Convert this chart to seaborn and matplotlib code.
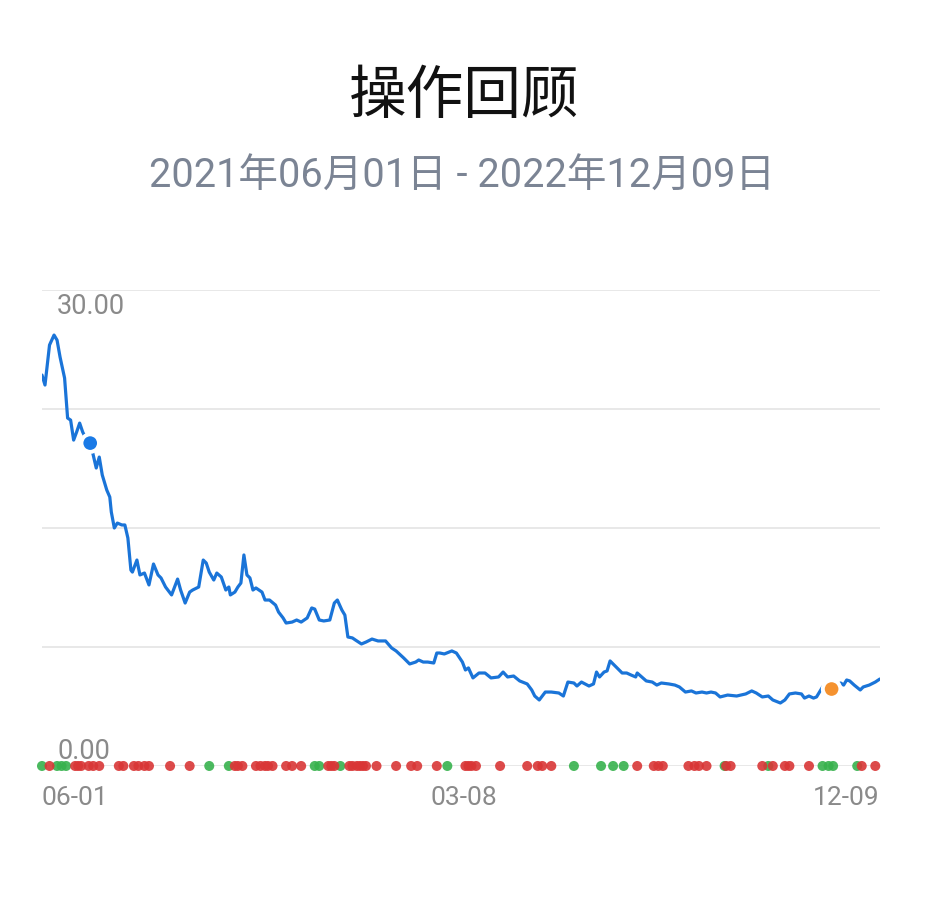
import matplotlib
matplotlib.use("Agg")
import matplotlib.pyplot as plt
import matplotlib.transforms as mtransforms
import seaborn as sns
import pandas as pd
import numpy as np

# ---------------- data ----------------
title_text = "操作回顾"
subtitle_text = "2021年06月01日 - 2022年12月09日"
start_date = "2021-06-01"
end_date = "2022-12-09"

# day offsets from start_date and closing values of the line
line_days = [0, 2, 5, 8, 10, 12, 15, 17, 19, 21, 23, 25, 27, 29, 32, 34, 36, 38, 40, 43,
             45, 46, 48, 50, 53, 55, 57, 59, 60, 63, 65, 68, 71, 74, 77, 79, 82, 86, 88, 90,
             92, 95, 98, 100, 104, 107, 109, 111, 114, 116, 119, 122, 124, 125, 128, 130, 132,
             134, 136, 138, 140, 142, 146, 148, 151, 155, 157, 160, 162, 166, 169, 172, 176,
             179, 181, 184, 187, 191, 194, 196, 199, 201, 203, 206, 208, 212, 215, 219, 223,
             228, 232, 235, 240, 244, 248, 250, 253, 256, 260, 262, 264, 267, 272, 275, 279,
             281, 283, 286, 290, 294, 298, 303, 306, 309, 313, 317, 322, 325, 327, 330, 334,
             338, 343, 346, 349, 353, 355, 358, 363, 366, 368, 370, 373, 375, 377, 381, 385,
             388, 391, 394, 395, 398, 401, 405, 408, 411, 416, 420, 423, 427, 431, 434, 438,
             441, 444, 447, 450, 455, 461, 467, 471, 474, 478, 482, 485, 490, 493, 496, 500,
             504, 506, 509, 512, 514, 518, 524, 530, 532, 534, 536, 539, 543, 545, 549, 553, 556]
line_values = [24.64, 24.01, 26.53, 27.16, 26.84, 25.77, 24.45, 21.93, 21.80, 20.54, 21.05,
               21.61, 21.05, 20.67, 20.35, 19.60, 18.78, 19.47, 18.34, 17.39, 16.95, 16.01,
               15.00, 15.31, 15.19, 15.19, 14.37, 12.35, 12.22, 12.98, 12.04, 12.16, 11.41,
               12.73, 12.04, 11.85, 11.28, 10.78, 11.28, 11.78, 11.09, 10.27, 10.96, 11.09,
               11.28, 12.98, 12.79, 12.22, 11.72, 12.16, 11.91, 11.09, 11.28, 10.78, 10.96,
               11.28, 11.53, 13.30, 12.04, 11.85, 11.09, 11.22, 10.96, 10.46, 10.46, 10.14,
               9.70, 9.33, 9.01, 9.07, 9.20, 9.07, 9.33, 9.96, 9.89, 9.20, 9.14, 9.20, 10.27,
               10.46, 9.83, 9.51, 8.13, 8.07, 7.94, 7.69, 7.81, 8.00, 7.88, 7.88, 7.44, 7.25,
               6.81, 6.43, 6.55, 6.68, 6.55, 6.55, 6.49, 7.12, 7.12, 7.06, 7.25, 7.12, 6.55,
               6.05, 6.18, 5.55, 5.86, 5.86, 5.55, 5.61, 5.92, 5.61, 5.67, 5.36, 5.17, 4.79,
               4.41, 4.16, 4.66, 4.66, 4.60, 4.41, 5.29, 5.23, 5.04, 5.29, 5.04, 5.17, 5.92,
               5.61, 5.92, 5.99, 6.62, 6.24, 5.86, 5.86, 5.73, 5.61, 5.86, 5.61, 5.36, 5.29,
               5.10, 5.23, 5.17, 5.10, 4.98, 4.66, 4.73, 4.60, 4.66, 4.60, 4.66, 4.60, 4.35,
               4.47, 4.41, 4.54, 4.73, 4.60, 4.35, 4.41, 4.16, 3.97, 4.16, 4.54, 4.60, 4.54,
               4.28, 4.41, 4.28, 4.35, 4.98, 4.85, 5.23, 5.10, 5.42, 5.36, 5.10, 4.79, 4.98,
               5.10, 5.29, 5.48]

# signal dots along the zero line
green_days = [0, 10, 13, 16, 111, 124, 181, 184, 198, 269, 353, 371, 379, 386, 453, 482,
              518, 522, 525, 541]
red_days = [5, 22, 24, 26, 31, 34, 38, 51, 54, 61, 64, 68, 71, 85, 98, 128, 130, 133, 142,
            145, 148, 150, 153, 162, 166, 172, 190, 192, 194, 204, 206, 209, 211, 213, 215,
            222, 235, 245, 249, 262, 281, 283, 285, 288, 304, 322, 329, 332, 338, 395, 406,
            409, 412, 429, 433, 436, 441, 454, 457, 478, 485, 493, 496, 509, 544, 553]

# highlighted points
blue_point_day, blue_point_value = 32, 20.35
orange_point_day, orange_point_value = 524, 4.85

y_min, y_max = 0.0, 30.0
y_grid = [0, 7.5, 15, 22.5, 30]
x_tick_dates = ["2021-06-01", "2022-03-08", "2022-12-09"]

# ---------------- style ----------------
sns.set_style("white")
plt.rcParams["font.family"] = ["Roboto", "Noto Sans CJK SC", "DejaVu Sans"]

LINE_C = "#1a74d8"
GREEN_C = "#37b24d"
RED_C = "#d93636"
GREY_TXT = "#8a8a8a"

fig = plt.figure(figsize=(9.33, 9.02), dpi=100)
ax = fig.add_axes([0.045, 0.1508, 0.898, 0.5277])

start = pd.Timestamp(start_date)
total_days = (pd.Timestamp(end_date) - start).days

line_df = pd.DataFrame({"day": line_days, "value": line_values})
sig_df = pd.DataFrame({
    "day": green_days + red_days,
    "value": [0.0] * (len(green_days) + len(red_days)),
    "kind": ["buy"] * len(green_days) + ["sell"] * len(red_days),
})

for g in y_grid:
    ax.axhline(g, color="#e4e4e4", lw=1.2, zorder=0)

sns.lineplot(data=line_df, x="day", y="value", ax=ax, color=LINE_C, lw=2.3, zorder=3)

sns.scatterplot(data=sig_df, x="day", y="value", hue="kind",
                palette={"buy": GREEN_C, "sell": RED_C}, s=52, alpha=0.9,
                edgecolor="none", legend=False, ax=ax, zorder=4, clip_on=False)

hl_df = pd.DataFrame({"day": [blue_point_day, orange_point_day],
                      "value": [blue_point_value, orange_point_value],
                      "kind": ["a", "b"]})
sns.scatterplot(data=hl_df, x="day", y="value", hue="kind",
                palette={"a": "#1a7ae6", "b": "#f5922f"}, s=160,
                edgecolor="white", linewidth=2.8, legend=False, ax=ax, zorder=5)

ax.set_xlim(0, total_days)
ax.set_ylim(y_min, y_max)
ax.set_xlabel("")
ax.set_ylabel("")
ax.set_yticks([])
ax.set_xticks([])
for s in ax.spines.values():
    s.set_visible(False)

trans = mtransforms.blended_transform_factory(ax.transAxes, ax.transData)
ax.text(0.018, y_max - 0.2, "30.00", transform=trans, ha="left", va="top",
        fontsize=19.5, color=GREY_TXT)
ax.text(0.018, y_min + 0.05, "0.00", transform=trans, ha="left", va="bottom",
        fontsize=19.5, color=GREY_TXT)

trans_x = mtransforms.blended_transform_factory(ax.transData, ax.transAxes)
aligns = ["left", "center", "right"]
for d, ha in zip(x_tick_dates, aligns):
    ts = pd.Timestamp(d)
    ax.text((ts - start).days, -0.043, ts.strftime("%m-%d"), transform=trans_x,
            ha=ha, va="top", fontsize=19, color=GREY_TXT)

fig.text(0.497, 0.893, title_text, ha="center", va="center", fontsize=41.5,
         color="#111111", family=["Noto Sans CJK SC", "DejaVu Sans"])
fig.text(0.495, 0.806, subtitle_text, ha="center", va="center", fontsize=28.5,
         color="#7b8494", family=["Roboto", "Noto Sans CJK SC", "DejaVu Sans"])

fig.savefig("out.png", dpi=100, facecolor="white")
